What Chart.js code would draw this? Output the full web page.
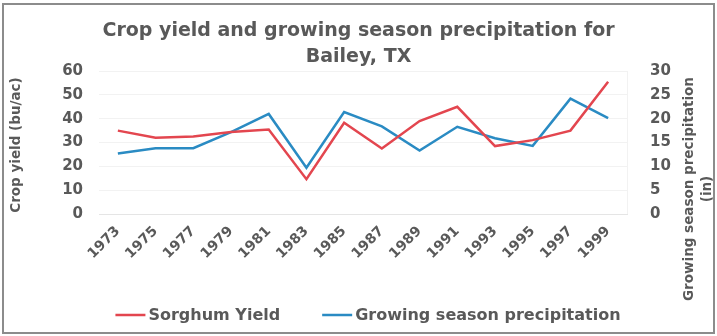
<!DOCTYPE html>
<html>
<head>
<meta charset="utf-8">
<script src="https://cdn.jsdelivr.net/npm/chart.js@4"></script>
<style>
html,body{margin:0;padding:0;background:#fff;}
#wrap{width:717px;height:336px;position:relative;}
</style>
</head>
<body>
<div id="wrap"><canvas id="c" width="717" height="336"></canvas></div>
<script>
const years = ['1973','1975','1977','1979','1981','1983','1985','1987','1989','1991','1993','1995','1997','1999'];
const sorghumYield = [35, 32, 32.5, 34.4, 35.5, 14.6, 38.3, 27.5, 39, 45, 28.5, 31, 35, 55.5];
const precipitation = [12.7, 13.8, 13.8, 17.2, 21, 9.7, 21.4, 18.4, 13.3, 18.3, 15.9, 14.3, 24.2, 20.1];
const leftTicks = [0, 10, 20, 30, 40, 50, 60];
const rightTicks = [0, 5, 10, 15, 20, 25, 30];
const titleLines = ['Crop yield and growing season precipitation for', 'Bailey, TX'];
const leftTitle = 'Crop yield (bu/ac)';
const rightTitleLines = ['Growing season precipitation', '(in)'];

const GRAY = '#595959';
const FONT = '"DejaVu Sans", sans-serif';

const framePlugin = {
  id: 'frame',
  beforeDraw(chart) {
    const ctx = chart.ctx;
    ctx.save();
    ctx.fillStyle = '#fff';
    ctx.fillRect(0, 0, chart.width, chart.height);
    ctx.strokeStyle = '#8c8c8c';
    ctx.lineWidth = 2;
    ctx.strokeRect(3, 4, 711, 329);
    ctx.restore();
  },
  afterDraw(chart) {
    const ctx = chart.ctx;
    ctx.save();
    ctx.fillStyle = GRAY;
    ctx.font = 'bold 13.5px ' + FONT;
    ctx.textAlign = 'center';
    ctx.textBaseline = 'middle';
    ctx.save();
    ctx.translate(16, 145);
    ctx.rotate(-Math.PI / 2);
    ctx.fillText(leftTitle, 0, 0);
    ctx.restore();
    ctx.save();
    ctx.translate(689, 189);
    ctx.rotate(-Math.PI / 2);
    ctx.fillText(rightTitleLines[0], 0, 0);
    ctx.fillText(rightTitleLines[1], 0, 18);
    ctx.restore();

    // legend
    const ds = chart.data.datasets;
    ctx.font = 'bold 16px ' + FONT;
    ctx.textAlign = 'left';
    const lineW = 30, gapT = 3, gapItem = 42;
    let total = 0;
    ds.forEach((d, i) => {
      total += lineW + gapT + ctx.measureText(d.label).width + (i < ds.length - 1 ? gapItem : 0);
    });
    let x = 368 - total / 2;
    const y = 315;
    ds.forEach((d) => {
      ctx.strokeStyle = d.borderColor;
      ctx.lineWidth = 2.5;
      ctx.beginPath();
      ctx.moveTo(x, y);
      ctx.lineTo(x + lineW, y);
      ctx.stroke();
      x += lineW + gapT;
      ctx.fillStyle = GRAY;
      ctx.fillText(d.label, x, y + 1);
      x += ctx.measureText(d.label).width + gapItem;
    });
    ctx.restore();
  }
};

new Chart(document.getElementById('c'), {
  type: 'line',
  data: {
    labels: years,
    datasets: [
      {
        label: 'Sorghum Yield',
        data: sorghumYield,
        borderColor: '#e3464f',
        backgroundColor: '#e3464f',
        borderWidth: 2.5,
        pointRadius: 0,
        tension: 0,
        yAxisID: 'y'
      },
      {
        label: 'Growing season precipitation',
        data: precipitation,
        borderColor: '#2a8bc3',
        backgroundColor: '#2a8bc3',
        borderWidth: 2.5,
        pointRadius: 0,
        tension: 0,
        yAxisID: 'y1'
      }
    ]
  },
  options: {
    responsive: false,
    animation: false,
    layout: { padding: { left: 8, right: 8, top: 16, bottom: 40 } },
    plugins: {
      title: {
        display: true,
        text: titleLines,
        color: GRAY,
        font: { family: FONT, size: 19, weight: 'bold', lineHeight: 1.37 },
        padding: { top: 2, bottom: 1 }
      },
      legend: { display: false },
      tooltip: { enabled: false }
    },
    scales: {
      x: {
        offset: true,
        grid: { display: false, drawTicks: false },
        border: { display: true, color: 'rgba(0,0,0,0.05)' },
        ticks: {
          color: GRAY,
          font: { family: FONT, size: 14, weight: 'bold' },
          maxRotation: 45,
          minRotation: 45,
          autoSkip: false,
          padding: 9
        },
        afterFit(s) { s.height = 82; }
      },
      y: {
        position: 'left',
        min: leftTicks[0],
        max: leftTicks[leftTicks.length - 1],
        grid: { color: 'rgba(0,0,0,0.05)', drawTicks: false },
        border: { display: false },
        ticks: {
          stepSize: leftTicks[1] - leftTicks[0],
          color: GRAY,
          font: { family: FONT, size: 15, weight: 'bold' },
          padding: 16
        },
        afterFit(s) { s.width = 91; }
      },
      y1: {
        position: 'right',
        min: rightTicks[0],
        max: rightTicks[rightTicks.length - 1],
        grid: { display: false, drawTicks: false },
        border: { display: true, color: 'rgba(0,0,0,0.05)' },
        ticks: {
          stepSize: rightTicks[1] - rightTicks[0],
          color: GRAY,
          font: { family: FONT, size: 15, weight: 'bold' },
          padding: 23
        },
        afterFit(s) { s.width = 82; }
      }
    }
  },
  plugins: [framePlugin]
});
</script>
</body>
</html>
